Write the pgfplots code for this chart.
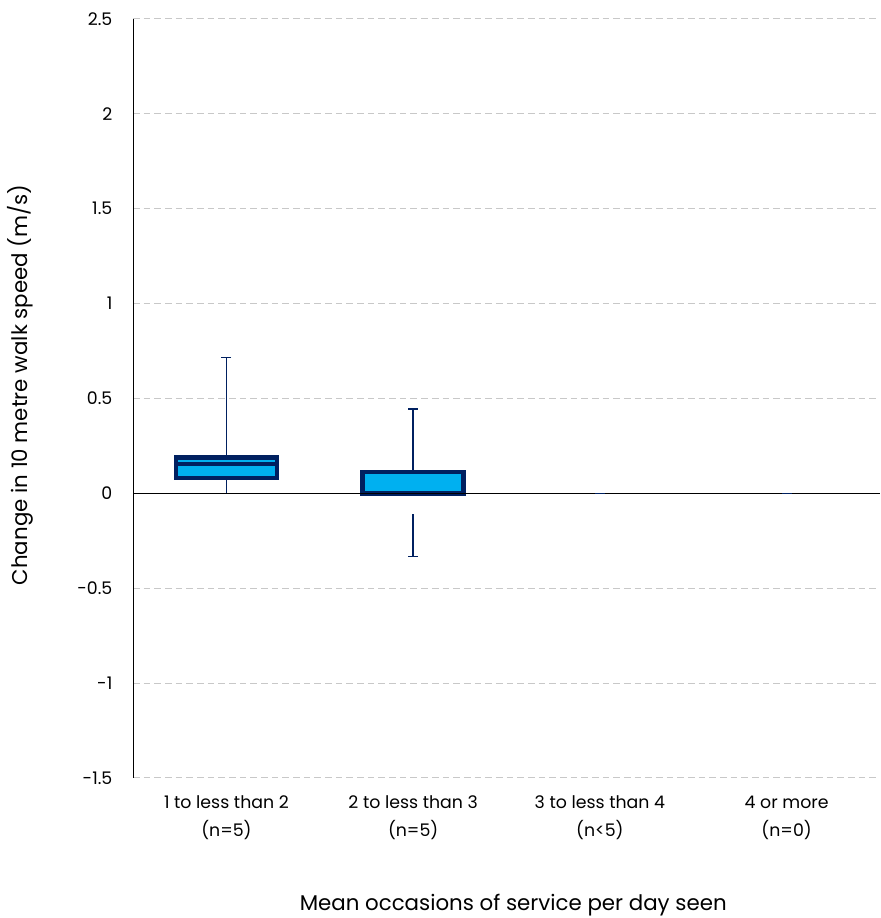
\documentclass[border=0pt]{standalone}
\usepackage{pgfplots}
\pgfplotsset{compat=1.18}
\usepgfplotslibrary{statistics}
\usepackage{fontspec}
\setmainfont{Poppins}
\definecolor{navy}{HTML}{002060}
\definecolor{boxfill}{HTML}{00B0F0}
\definecolor{gridgray}{HTML}{C8C8C8}
\begin{document}
\begin{tikzpicture}
\begin{axis}[
  scale only axis,
  width=560pt, height=569pt,
  xmin=-0.5, xmax=3.5,
  ymin=-1.5, ymax=2.5,
  ytick={-1.5,-1,-0.5,0,0.5,1,1.5,2,2.5},
  yticklabels={-1.5,-1,-0.5,0,0.5,1,1.5,2,2.5},
  xtick={0,1,2,3},
  xticklabels={{1 to less than 2\\(n=5)},{2 to less than 3\\(n=5)},{3 to less than 4\\(n<5)},{4 or more\\(n=0)}},
  xticklabel style={align=center, yshift=-10pt, font=\fontsize{13}{21}\selectfont},
  yticklabel style={xshift=-12pt, font=\fontsize{13}{15}\selectfont},
  major tick length=0pt,
  ymajorgrids,
  grid style={gridgray, dash pattern=on 5pt off 3pt, line width=0.75pt},
  axis x line*=bottom,
  x axis line style={draw=none},
  axis y line*=left,
  y axis line style={black, line width=0.75pt, -},
  xlabel={Mean occasions of service per day seen},
  ylabel={Change in 10 metre walk speed (m/s)},
  xlabel style={at={(axis description cs:0.509,-0.167)}, anchor=center, font=\fontsize{16}{18}\selectfont},
  ylabel style={at={(axis description cs:-0.151,0.518)}, anchor=center, font=\fontsize{16}{18}\selectfont},
  clip=false,
  boxplot/draw direction=y,
  boxplot/box extend=0.54,
  boxplot/whisker extend=0.054,
]
\addplot[boxplot prepared={draw position=0, lower whisker=0, lower quartile=0.08, median=0.155, upper quartile=0.19, upper whisker=0.717},
  draw=navy, fill=boxfill, line width=3.4pt,
  boxplot/every whisker/.style={line width=1pt},
  boxplot/every median/.style={line width=3.4pt}] coordinates {};
\addplot[boxplot prepared={draw position=1, lower whisker=0, lower quartile=0, median=0, upper quartile=0.113, upper whisker=0.445},
  draw=navy, fill=boxfill, line width=3.4pt,
  boxplot/every whisker/.style={line width=1pt},
  boxplot/every median/.style={line width=3.4pt}] coordinates {};
% detached lower whisker of the second box
\addplot[navy, line width=1pt, mark=none] coordinates {(1,-0.11) (1,-0.333)};
\addplot[navy, only marks, mark=-, mark size=3.75pt, mark options={line width=1pt}] coordinates {(1,-0.333) (2,0) (3,0)};
% zero line
\addplot[black, line width=0.9pt, mark=none] coordinates {(-0.5,0) (3.5,0)};
\end{axis}
\pgfresetboundingbox
\path[use as bounding box] ([shift={(-99.75pt,-105pt)}]current axis.south west) rectangle ([shift={(0.75pt,14.25pt)}]current axis.north east);
\end{tikzpicture}
\end{document}
